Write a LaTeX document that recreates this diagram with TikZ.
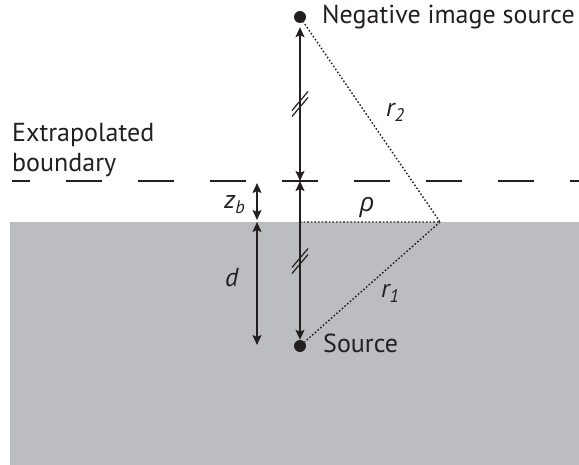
\documentclass[tikz,border=0pt]{standalone}
\usepackage{fontspec}
\setmainfont{PT Sans}
\newfontfamily\greekfont{Open Sans}
\usetikzlibrary{arrows.meta,positioning,calc}
\definecolor{ink}{HTML}{231F20}
\definecolor{medium}{HTML}{BCBDC0}

\begin{document}
\begin{tikzpicture}[x=1pt, y=-1pt,
  font=\fontsize{26}{30}\selectfont,
  dot/.style={circle, fill=ink, inner sep=0pt, minimum size=12pt},
  lbl/.style={anchor=base west, text=ink, inner sep=0pt},
  sym/.style={lbl, font=\fontsize{26}{30}\selectfont\itshape},
  ar/.style={{Stealth[length=10pt,width=9pt,inset=2pt]}-{Stealth[length=10pt,width=9pt,inset=2pt]},
             draw=ink, line width=1.5pt},
  dots/.style={draw=ink, line width=1.4pt, dash pattern=on 1.6pt off 2pt},
  tick/.style={draw=ink, line width=1.2pt},
  xbound/.style={draw=ink, line width=1.5pt, dash pattern=on 36pt off 36pt, dash phase=18pt},
]
\useasboundingbox (0,0) rectangle (579,465);
% medium below the boundary
\fill[medium] (10,222) rectangle (579,465);
\draw[xbound] (12,181) -- (579,181);

\node[dot] (img) at (300,17) {};
\node[dot] (src) at (300,346) {};
\coordinate (bnd) at (300,181);
\coordinate (surf) at (300,222);
\coordinate (pt) at (440,222);
\coordinate (zt) at (257,181);
\coordinate (zs) at (257,222);
\coordinate (zd) at (257,345);
\coordinate (m1) at (300,104);
\coordinate (m2) at (300,261);

% labels
\node[lbl] (neg) at (322,24) {Negative image source};
\node[lbl] (srclbl) at (323,353) {Source};
\node[lbl] (ext) at (12,142) {Extrapolated};
\node[lbl] (bdy) at (12,172) {boundary};
\node[sym] (zb) at (224,209) {z\textsubscript{b}};
\node[sym] (dl) at (225,287) {d};
\node[sym] (r1) at (381,298) {r\textsubscript{1}};
\node[sym] (r2) at (386,117) {r\textsubscript{2}};
\node[sym, anchor=base] (rho) at (367,212) {{\greekfont ρ}};

% distances
\draw[ar, shorten <=4pt] (img) -- (bnd);
\draw[ar] (bnd) -- (src);
\draw[ar, shorten <=2pt, shorten >=2pt] (zt) -- (zs);
\draw[ar] (zs) -- (zd);
\draw[dots] (surf) -- (pt) -- (img);
\draw[dots] (pt) -- (src);
\foreach \m in {m1,m2}
  \foreach \o in {-3,3}
    \draw[tick] ([shift={(-8,9.5+\o)}]\m) -- ([shift={(8,-9.5+\o)}]\m);
\end{tikzpicture}
\end{document}
